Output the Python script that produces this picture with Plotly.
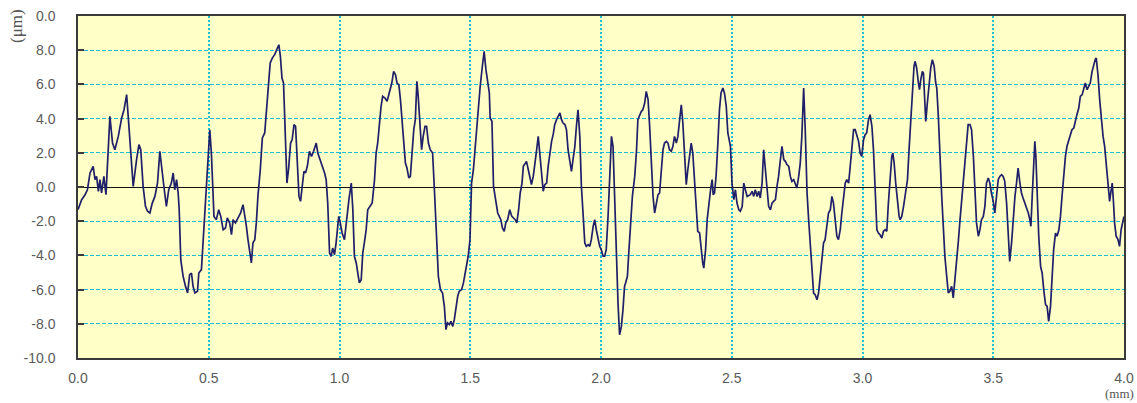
import plotly.graph_objects as go

# Profile position along the trace (mm)
position_mm = [
    0.000, 0.014, 0.027, 0.036, 0.046, 0.058, 0.065, 0.071, 0.078, 0.084, 0.090, 0.099, 0.107, 0.116, 0.122, 0.132, 0.141, 0.154, 0.167, 0.176, 0.183,
    0.186, 0.192, 0.198, 0.205, 0.211, 0.224, 0.233, 0.240, 0.249, 0.258, 0.266, 0.275, 0.284, 0.294, 0.304, 0.313, 0.319, 0.330, 0.338, 0.347, 0.357, 0.364, 0.370, 0.377, 0.383, 0.387, 0.393, 0.402, 0.411, 0.419, 0.427, 0.434, 0.440, 0.447, 0.457, 0.462, 0.472, 0.478, 0.485, 0.491, 0.497, 0.504, 0.510, 0.514, 0.520, 0.529, 0.538, 0.546, 0.555, 0.564, 0.571, 0.580, 0.587, 0.593, 0.602, 0.612, 0.622, 0.631, 0.637, 0.644, 0.650, 0.656,
    0.663, 0.669, 0.676, 0.682, 0.688, 0.697, 0.705, 0.714, 0.720, 0.730, 0.735, 0.743, 0.752, 0.761, 0.768, 0.774, 0.780, 0.786, 0.793, 0.799, 0.805, 0.813, 0.819, 0.826, 0.832, 0.838, 0.845, 0.851, 0.858, 0.864, 0.870, 0.877, 0.885, 0.893, 0.901, 0.911, 0.917, 0.926, 0.936, 0.943, 0.949, 0.955, 0.962, 0.968, 0.974, 0.981, 0.987, 0.994, 0.997, 1.003, 1.010, 1.019, 1.028, 1.036, 1.045, 1.051, 1.057, 1.064, 1.070, 1.076, 1.083, 1.089, 1.095, 1.102, 1.108, 1.117, 1.125, 1.134, 1.140, 1.146,
    1.153, 1.159, 1.165, 1.174, 1.182, 1.191, 1.200, 1.207, 1.214, 1.220, 1.227, 1.233, 1.239, 1.246, 1.252, 1.258, 1.265, 1.271, 1.277, 1.284, 1.290, 1.296, 1.301, 1.308, 1.314, 1.320, 1.327, 1.333, 1.340, 1.347, 1.356, 1.363, 1.369, 1.373, 1.378, 1.386, 1.394, 1.401, 1.407, 1.413, 1.420, 1.426, 1.433, 1.439, 1.445, 1.452, 1.458, 1.467, 1.474, 1.483, 1.492, 1.499, 1.505, 1.512, 1.518, 1.526, 1.532, 1.538, 1.547, 1.553, 1.560, 1.566, 1.573, 1.576, 1.583, 1.589, 1.598, 1.605,
    1.617, 1.623, 1.630, 1.636, 1.643, 1.651, 1.659, 1.664, 1.672, 1.678, 1.685, 1.691, 1.698, 1.703, 1.709, 1.715, 1.722, 1.728, 1.734, 1.741, 1.747, 1.754, 1.760, 1.766, 1.773, 1.779, 1.785, 1.792, 1.798, 1.804, 1.811, 1.817, 1.823, 1.830, 1.836, 1.843, 1.849, 1.855, 1.862, 1.868, 1.874, 1.881, 1.887, 1.893, 1.900, 1.906, 1.912, 1.919, 1.925, 1.932, 1.938, 1.944, 1.951, 1.957, 1.963, 1.970, 1.976, 1.982, 1.989, 1.995, 2.001, 2.008, 2.014, 2.020, 2.027, 2.033, 2.040, 2.046, 2.052, 2.059, 2.065, 2.071, 2.078, 2.084, 2.090,
    2.094, 2.101, 2.107, 2.113, 2.120, 2.129, 2.136, 2.141, 2.148, 2.154, 2.160, 2.167, 2.173, 2.180, 2.186, 2.192, 2.199, 2.205, 2.211, 2.218, 2.224, 2.230, 2.237, 2.243, 2.250, 2.256, 2.262, 2.269, 2.275, 2.281, 2.288, 2.294, 2.300, 2.307, 2.313, 2.320, 2.326, 2.332, 2.339, 2.345, 2.351, 2.358, 2.364, 2.370, 2.377, 2.383, 2.389, 2.393, 2.400, 2.406, 2.412, 2.419, 2.425, 2.429, 2.434, 2.440, 2.447, 2.453, 2.459, 2.466, 2.472, 2.479, 2.485, 2.491, 2.495, 2.501, 2.508, 2.514, 2.520, 2.527, 2.533, 2.540, 2.546, 2.552, 2.559,
    2.571, 2.578, 2.584, 2.590, 2.597, 2.603, 2.609, 2.616, 2.622, 2.629, 2.635, 2.641, 2.648, 2.654, 2.660, 2.667, 2.673, 2.679, 2.686, 2.692, 2.699, 2.705, 2.711, 2.718, 2.724, 2.730, 2.737, 2.743, 2.749, 2.756, 2.762, 2.768, 2.775, 2.781, 2.788, 2.794, 2.800, 2.807, 2.813, 2.819, 2.826, 2.832, 2.838, 2.845, 2.851, 2.857, 2.864, 2.870, 2.877, 2.883, 2.889, 2.896, 2.902, 2.908, 2.915, 2.921, 2.927, 2.934, 2.940, 2.947, 2.953, 2.959, 2.966, 2.972, 2.978, 2.985, 2.991, 2.997, 3.004, 3.010, 3.016, 3.023, 3.029, 3.036, 3.042, 3.048,
    3.055, 3.061, 3.067, 3.074, 3.080, 3.087, 3.093, 3.099, 3.106, 3.112, 3.116, 3.121, 3.127, 3.134, 3.140, 3.144, 3.150, 3.157, 3.163, 3.167, 3.172, 3.178, 3.185, 3.191, 3.197, 3.201, 3.207, 3.214, 3.218, 3.223, 3.229, 3.233, 3.237, 3.242, 3.248, 3.254, 3.261, 3.267, 3.274, 3.280, 3.284, 3.290, 3.296, 3.303, 3.309, 3.315, 3.322, 3.328, 3.334, 3.341, 3.347, 3.354, 3.360, 3.366, 3.373, 3.379, 3.385, 3.392, 3.398, 3.404, 3.411, 3.417, 3.424, 3.430, 3.436, 3.443, 3.449, 3.455, 3.462, 3.468, 3.474, 3.481, 3.487, 3.493, 3.500, 3.506, 3.512,
    3.519, 3.525, 3.532, 3.538, 3.544, 3.551, 3.557, 3.563, 3.570, 3.576, 3.583, 3.589, 3.595, 3.602, 3.608, 3.614, 3.621, 3.627, 3.634, 3.640, 3.644, 3.649, 3.655, 3.659, 3.663, 3.668, 3.674, 3.681, 3.687, 3.693, 3.700, 3.706, 3.712, 3.719, 3.725, 3.731, 3.738, 3.744, 3.751, 3.757, 3.763, 3.770, 3.776, 3.782, 3.789, 3.795, 3.801, 3.808, 3.814, 3.820, 3.827, 3.833, 3.840, 3.846, 3.852, 3.859, 3.865, 3.871, 3.878, 3.884, 3.890, 3.894, 3.901, 3.907, 3.913, 3.920, 3.926, 3.932, 3.939, 3.945, 3.951, 3.955, 3.960, 3.964, 3.970, 3.977, 3.983, 3.989, 4.000,
]

# Profile height (um)
height_um = [
    -1.33, -0.74, -0.45, -0.16, 0.82, 1.21, 0.43, 0.62, -0.25, 0.43, -0.35, 0.62, -0.45, 1.99, 4.13, 2.57, 2.18, 2.96, 4.04, 4.52, 5.30,
    5.40, 4.13, 2.96, 1.21, 0.04, 1.60, 2.48, 2.18, 0.04, -1.13, -1.42, -1.52, -0.94, -0.55, 0.23, 2.09, 1.21, -0.16, -1.13, -0.16, 0.23, 0.82, -0.16, 0.43, -0.35, -1.33, -4.25, -5.22, -5.81, -6.20, -5.13, -5.03, -5.81, -6.20, -6.10, -5.03, -4.83, -3.27, -1.33, 0.04, 1.99, 3.35, 1.99, 0.04, -1.72, -1.91, -1.33, -1.72, -2.50, -2.40, -1.81, -2.10, -2.79, -1.91, -2.10, -1.81, -1.52, -1.03, -1.52, -2.30, -3.08, -3.86,
    -4.44, -3.27, -3.08, -2.10, -0.55, 1.01, 2.87, 3.16, 4.52, 6.28, 7.25, 7.54, 7.74, 8.13, 8.32, 7.64, 6.37, 6.08, 3.16, 0.23, 1.01, 2.57, 2.77, 3.65, 3.55, 1.79, -0.55, -0.84, 0.23, 0.92, 0.82, 1.21, 2.09, 1.79, 2.09, 2.57, 1.99, 1.60, 1.21, 0.82, 0.43, -0.94, -3.86, -4.05, -3.57, -3.96, -3.27, -2.30, -1.72, -2.10, -2.69, -3.08, -1.72, -0.74, 0.23, -1.33, -4.05, -4.44, -5.03, -5.61, -5.42, -3.86, -3.27, -2.50, -1.33, -1.13, -0.94, 0.43, 1.99, 2.57,
    3.94, 4.72, 5.30, 5.20, 5.01, 5.50, 6.08, 6.76, 6.57, 6.08, 5.98, 5.11, 3.74, 2.18, 1.40, 1.11, 0.53, 0.62, 1.79, 3.35, 3.94, 6.18, 5.30, 3.16, 2.18, 2.96, 3.55, 3.55, 2.57, 2.18, 1.99, -0.16, -2.30, -4.44, -5.22, -6.00, -6.20, -6.98, -8.34, -7.95, -8.05, -7.86, -8.15, -7.76, -6.98, -6.39, -6.10, -6.00, -5.61, -4.83, -4.05, -3.08, 0.23, 1.01, 2.18, 3.55, 4.52, 5.89, 7.15, 7.93, 6.86, 6.28, 5.50, 4.04, 3.84, 0.04, -0.74, -1.52,
    -1.91, -2.40, -2.59, -2.10, -1.91, -1.33, -1.72, -1.81, -1.91, -2.10, -1.33, -0.35, 0.23, 1.21, 1.40, 1.50, 1.01, 0.62, 0.14, 0.62, 1.21, 2.18, 2.96, 1.79, 0.82, -0.25, 0.14, 0.23, 1.21, 1.99, 2.67, 3.06, 3.65, 3.94, 4.13, 4.33, 3.94, 3.74, 3.65, 3.35, 2.18, 1.40, 0.92, 1.60, 2.38, 3.55, 4.52, 2.96, 0.04, -1.72, -3.27, -3.47, -3.37, -3.47, -3.08, -2.30, -1.91, -2.50, -3.08, -3.47, -3.66, -4.05, -4.05, -3.66, -1.72, 0.62, 2.96, 2.38, -0.74, -4.44, -6.78, -8.64, -8.15, -7.17, -5.81,
    -5.61, -5.22, -3.66, -2.10, -0.55, 0.62, 2.18, 3.94, 4.23, 4.42, 4.52, 4.91, 5.59, 5.11, 3.55, 1.60, -0.55, -1.52, -0.94, -0.45, -0.35, 0.62, 2.18, 2.57, 2.67, 2.57, 2.18, 2.09, 2.38, 2.96, 2.57, 2.96, 3.74, 4.81, 3.74, 1.79, 0.14, 1.01, 1.99, 2.57, 1.99, 0.23, -1.33, -2.59, -2.69, -3.66, -4.44, -4.74, -3.66, -1.91, -0.94, -0.16, 0.43, -0.45, -0.35, 0.62, 2.57, 4.52, 5.50, 5.79, 5.50, 4.72, 3.16, 2.57, 2.38, 0.23, -0.74, -0.16, -0.94, -1.33, -1.42, -1.13, 0.23, -0.16, -0.55,
    -0.45, -0.25, -0.55, -0.16, -0.55, -0.25, -0.64, 0.23, 2.18, 1.01, -0.16, -1.13, -1.33, -0.94, -0.84, -0.74, 0.04, 0.62, 1.60, 2.38, 1.60, 1.50, 1.31, 1.21, 0.62, 0.33, 0.43, 0.23, -0.06, 0.62, 1.40, 2.96, 5.79, 3.35, -0.35, -1.91, -3.27, -4.83, -6.20, -6.30, -6.59, -6.20, -5.22, -3.86, -3.27, -3.08, -2.10, -1.52, -1.33, -0.55, -0.94, -2.10, -2.88, -3.08, -2.50, -1.52, -0.74, 0.23, 0.43, 0.23, 1.21, 2.18, 3.35, 3.35, 3.06, 2.67, 1.99, 1.79, 2.77, 3.06, 3.16, 3.94, 4.23, 3.55, 2.18, 0.23,
    -2.50, -2.69, -2.79, -2.98, -2.59, -2.50, -2.59, -0.94, 0.62, 1.79, 1.99, 1.40, 0.23, -0.94, -1.72, -1.91, -1.72, -1.13, -0.45, -0.25, 0.43, 2.18, 4.13, 5.89, 7.06, 7.35, 6.96, 6.08, 5.69, 6.28, 6.76, 6.67, 5.30, 3.84, 4.91, 5.89, 6.96, 7.45, 7.06, 6.08, 5.79, 4.13, 1.60, -0.55, -2.30, -4.05, -5.22, -6.20, -6.10, -5.81, -6.49, -5.42, -4.44, -3.27, -1.91, -0.74, 0.43, 1.79, 2.96, 3.65, 3.65, 3.35, 1.79, -0.55, -2.10, -2.88, -2.50, -1.91, -1.72, -1.13, 0.23, 0.53, 0.23, -0.35, -0.84, -1.52, -0.55,
    0.43, 0.62, 0.72, 0.62, 0.33, -0.94, -2.88, -4.35, -3.27, -1.72, -0.55, 0.23, 1.11, 0.23, -0.35, -0.64, -0.94, -1.23, -1.52, -1.91, -2.30, -0.55, 1.99, 2.67, 1.79, -0.55, -2.88, -4.64, -5.03, -6.00, -6.88, -6.98, -7.86, -6.98, -5.22, -3.66, -2.69, -2.88, -2.50, -1.72, -0.55, 1.01, 1.79, 2.38, 2.77, 3.16, 3.35, 3.45, 3.94, 4.23, 4.62, 5.30, 5.40, 5.69, 6.08, 5.69, 5.89, 6.08, 6.76, 7.15, 7.45, 7.54, 6.47, 5.11, 3.94, 2.96, 2.38, 1.40, 0.04, -0.84, -0.16, 0.23, -0.94, -2.10, -2.88, -3.08, -3.47, -2.50, -1.72,
]

x_tick_vals = [0.0, 0.5, 1.0, 1.5, 2.0, 2.5, 3.0, 3.5, 4.0]
x_tick_text = ["0.0", "0.5", "1.0", "1.5", "2.0", "2.5", "3.0", "3.5", "4.0"]
y_tick_vals = [10, 8, 6, 4, 2, 0, -2, -4, -6, -8, -10]
y_tick_text = ["0.0", "8.0", "6.0", "4.0", "2.0", "0.0", "-2.0", "-4.0", "-6.0", "-8.0", "-10.0"]

W, H = 1137, 403
ML, MR, MT, MB = 78, 13, 16, 45
plot_w = W - ML - MR
plot_h = H - MT - MB

fig = go.Figure()
fig.add_trace(go.Scatter(
    x=position_mm, y=height_um, mode="lines",
    line=dict(color="#20206a", width=1.7),
    showlegend=False, hoverinfo="x+y",
))

tick_font = dict(family="Liberation Sans, Arial, sans-serif", size=14, color="#5a5a5a")
grid_color = "#1FBCD6"

fig.update_layout(
    width=W, height=H,
    margin=dict(l=ML, r=MR, t=MT, b=MB, autoexpand=False),
    paper_bgcolor="white",
    plot_bgcolor="#FFFFC8",
    xaxis=dict(
        range=[0, 4], tickmode="array", tickvals=x_tick_vals, ticktext=x_tick_text,
        showgrid=True, gridcolor=grid_color, gridwidth=1.5, griddash="2px,2px",
        zeroline=False, showline=True, mirror=True, linecolor="#3a3a3a", linewidth=1.5,
        ticks="", tickfont=tick_font, ticklabelstandoff=6, automargin=False,
    ),
    yaxis=dict(
        range=[-10, 10], tickmode="array", tickvals=y_tick_vals, ticktext=y_tick_text,
        showgrid=True, gridcolor=grid_color, gridwidth=1.4, griddash="4px,2px",
        zeroline=True, zerolinecolor="#111111", zerolinewidth=1.2,
        showline=True, mirror=True, linecolor="#3a3a3a", linewidth=1.5,
        ticks="inside", ticklen=6, tickcolor="#3a3a3a", tickwidth=1.5,
        tickfont=tick_font, ticklabelstandoff=18, automargin=False,
    ),
    annotations=[
        dict(text="(μm)", textangle=-90, xref="paper", yref="paper",
             x=(16 - ML) / plot_w, y=(H - MB - 26) / plot_h, showarrow=False,
             xanchor="center", yanchor="middle",
             font=dict(family="Liberation Serif, Times New Roman, serif", size=17, color="#555555")),
        dict(text="(mm)", xref="paper", yref="paper",
             x=(1135 - ML) / plot_w, y=(H - MB - 402) / plot_h, showarrow=False,
             xanchor="right", yanchor="bottom", borderpad=0,
             font=dict(family="Liberation Serif, Times New Roman, serif", size=13, color="#555555")),
    ],
)

fig.write_html(
    "out.html",
    config={"displayModeBar": False},
    post_script="document.body.style.margin='0';document.body.style.overflow='hidden';",
)
